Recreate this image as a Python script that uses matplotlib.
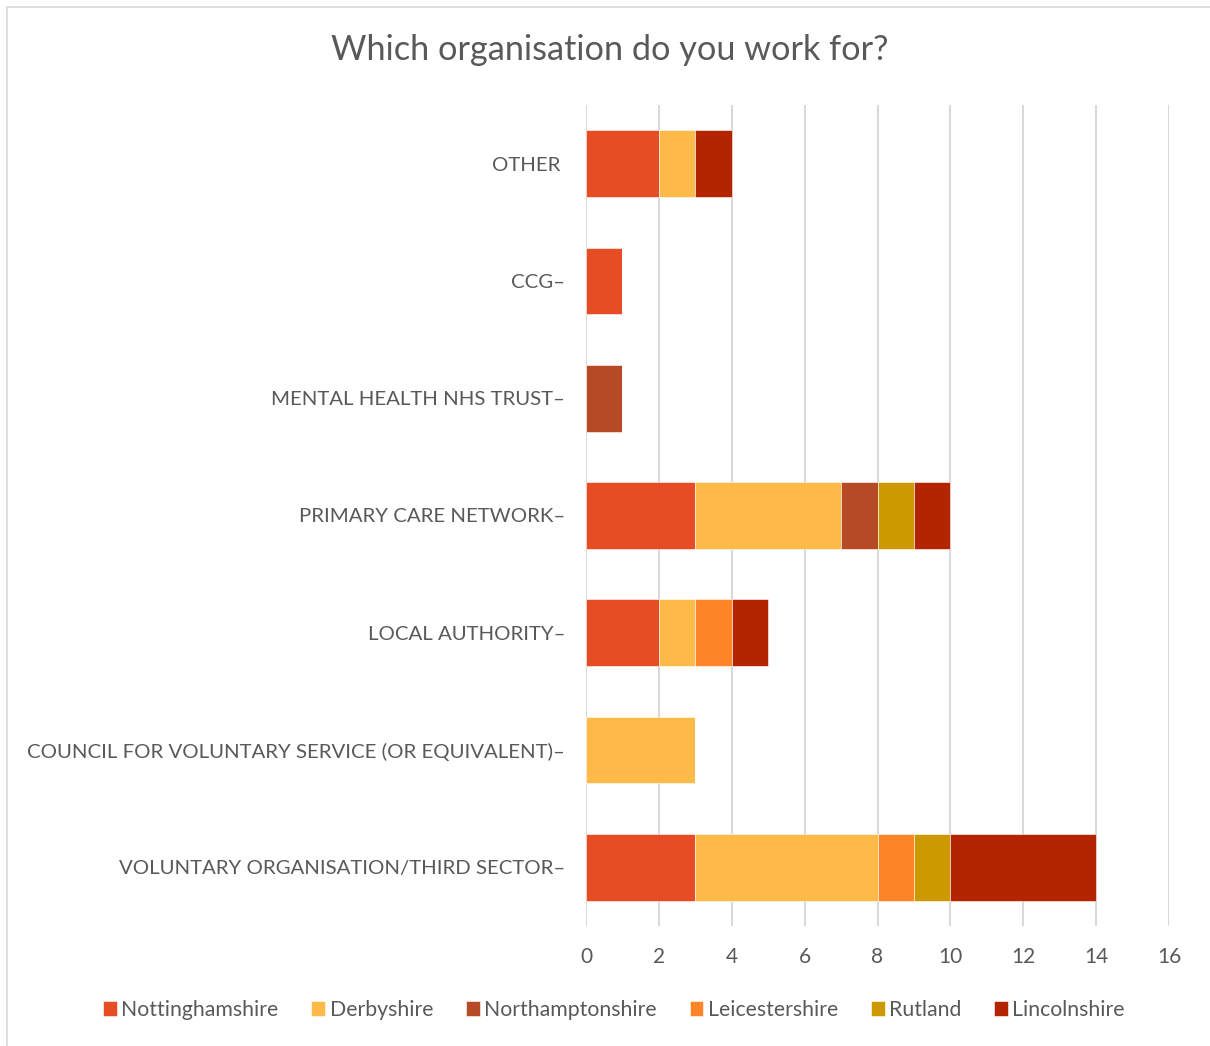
import matplotlib.pyplot as plt
from matplotlib.patches import Rectangle

# survey answers, one list per county (bottom row first)
categories = ["VOLUNTARY ORGANISATION/THIRD SECTOR–",
              "COUNCIL FOR VOLUNTARY SERVICE (OR EQUIVALENT)–",
              "LOCAL AUTHORITY–",
              "PRIMARY CARE NETWORK–",
              "MENTAL HEALTH NHS TRUST–",
              "CCG–",
              "OTHER "]
counties = ["Nottinghamshire", "Derbyshire", "Northamptonshire",
            "Leicestershire", "Rutland", "Lincolnshire"]
nottinghamshire = [3, 0, 2, 3, 0, 1, 2]
derbyshire = [5, 3, 1, 4, 0, 0, 1]
northamptonshire = [0, 0, 0, 1, 1, 0, 0]
leicestershire = [1, 0, 1, 0, 0, 0, 0]
rutland = [1, 0, 0, 1, 0, 0, 0]
lincolnshire = [4, 0, 1, 1, 0, 0, 1]
xticks = [0, 2, 4, 6, 8, 10, 12, 14, 16]

colours = ["#E64D24", "#FEBA49", "#B64A26", "#FE8428", "#CC9900", "#B22500"]
series = [nottinghamshire, derbyshire, northamptonshire,
          leicestershire, rutland, lincolnshire]

plt.rcParams['font.family'] = ['Lato', 'DejaVu Sans']
TEXT = "#595959"

fig = plt.figure(figsize=(12.1, 10.46), dpi=100)
# chart frame border
fig.patches.append(Rectangle((7 / 1210, -0.1), 1.2, 1.1 - 7 / 1046,
                             transform=fig.transFigure, fill=False,
                             edgecolor="#D9D9D9", linewidth=1.2))

ax = fig.add_axes([586 / 1210, 120 / 1046, 583 / 1210, 821 / 1046])
y = list(range(len(categories)))
left = [0] * len(categories)
for name, vals, col in zip(counties, series, colours):
    ax.barh(y, vals, left=left, height=0.57, color=col, label=name,
            edgecolor="white", linewidth=0.4, zorder=3)
    left = [a + b for a, b in zip(left, vals)]

ax.set_xlim(0, 16)
ax.set_ylim(-0.5, len(categories) - 0.5)
ax.set_xticks(xticks)
ax.set_yticks(y)
ax.set_yticklabels(categories)
ax.grid(axis="x", color="#D9D9D9", linewidth=1.5, zorder=0)
for s in ax.spines.values():
    s.set_visible(False)
ax.tick_params(axis="both", length=0, labelcolor=TEXT)
ax.tick_params(axis="x", pad=15, labelsize=15)
ax.tick_params(axis="y", pad=15, labelsize=14.7)

fig.text(610 / 1210, 1 - 50 / 1046, "Which organisation do you work for?",
         ha="center", va="center", fontsize=24.7, color=TEXT)

leg = fig.legend(loc="center", bbox_to_anchor=(614 / 1210, 1 - 1010 / 1046),
                 ncol=6, frameon=False, fontsize=15.3, handlelength=0.65,
                 handleheight=0.65, handletextpad=0.2, columnspacing=1.55)
for t in leg.get_texts():
    t.set_color(TEXT)

fig.savefig("out.png", dpi=100, facecolor="white")
